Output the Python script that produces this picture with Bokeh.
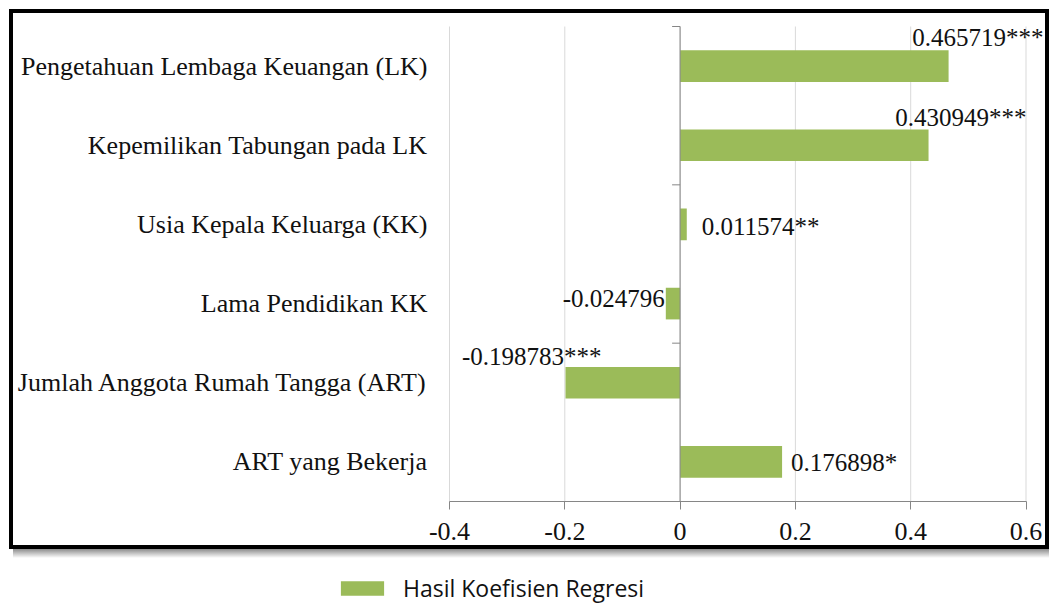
from math import pi
from bokeh.plotting import figure
from bokeh.models import (ColumnDataSource, Range1d, FixedTicker, Legend, LegendItem)
from bokeh.core.properties import value
from bokeh.embed import file_html
from bokeh.resources import INLINE

# ---- data ----
categories = [
    "Pengetahuan Lembaga Keuangan (LK)",
    "Kepemilikan Tabungan pada LK",
    "Usia Kepala Keluarga (KK)",
    "Lama Pendidikan KK",
    "Jumlah Anggota Rumah Tangga (ART)",
    "ART yang Bekerja",
]
coefficients = [0.465719, 0.430949, 0.011574, -0.024796, -0.198783, 0.176898]
significance = ["***", "***", "**", "", "***", "*"]
x_ticks = [-0.4, -0.2, 0, 0.2, 0.4, 0.6]
tick_labels = ["-0.4", "-0.2", "0", "0.2", "0.4", "0.6"]
series_name = "Hasil Koefisien Regresi"

# ---- label styling (pixel offsets, alignment) ----
label_align = ["right", "right", "left", "right", "right", "left"]
label_dx = [95, 98, 15, -1, 36, 9]
label_dy = [-29, -28, 2, -5, -26, 1]

GREEN = "#9bbb59"
AXIS = "#868686"
GRID = "#d9d9d9"
TEXT = "#111111"
SERIF = "Liberation Serif"

# ---- geometry (pixels on the page) ----
W, H = 1049, 604
PLOT_L, PLOT_R, PLOT_T, PLOT_B = 449, 1025.5, 26, 501

n = len(categories)
x_lo, x_hi = x_ticks[0], x_ticks[-1]
px_x = (PLOT_R - PLOT_L) / (x_hi - x_lo)
px_y = (PLOT_B - PLOT_T) / n
x_range = Range1d(x_lo - PLOT_L / px_x, x_lo + (W - PLOT_L) / px_x)
y_range = Range1d(-(H - PLOT_B) / px_y, n + PLOT_T / px_y)

y_pos = [n - 0.5 - i for i in range(n)]
labels = [f"{v:.6f}{s}" for v, s in zip(coefficients, significance)]
src = ColumnDataSource(dict(y=y_pos, cat=categories, val=coefficients, lab=labels,
                            align=label_align, dx=label_dx, dy=label_dy))

p = figure(width=W, height=H, x_range=x_range, y_range=y_range,
           output_backend="svg", toolbar_location=None, min_border=0)
p.background_fill_color = None
p.border_fill_color = None
p.outline_line_color = None
p.xgrid.grid_line_color = None
p.ygrid.grid_line_color = None

# black box (with soft shadow) around the chart area, drawn as CSS backgrounds
blk = "linear-gradient(#000000, #000000)"
shadow = "linear-gradient(rgba(0,0,0,0.45), rgba(0,0,0,0))"
p.styles = {
    "background-color": "white",
    "background-image": ", ".join([blk, blk, blk, blk, shadow]),
    "background-size": "1040px 4px, 4px 540px, 4px 540px, 1040px 4px, 1036px 9px",
    "background-position": "9px 9px, 9px 9px, 1045px 9px, 9px 545px, 13px 549px",
    "background-repeat": "no-repeat",
}

# vertical gridlines at the x ticks, spanning the category area
k = len(x_ticks)
p.segment(x0=x_ticks, x1=x_ticks, y0=[0] * k, y1=[n] * k,
          line_color=GRID, line_width=1)

bars = p.hbar(y="y", left=0, right="val", height=0.4, source=src,
              fill_color=GREEN, line_color=None)

# vertical axis line at zero with ticks every 2 categories
p.segment(x0=[0], x1=[0], y0=[0], y1=[n], line_color=AXIS, line_width=1)
bounds = list(range(0, n + 1, 2))
p.ray(x=[0] * len(bounds), y=bounds, length=8, angle=pi, length_units="screen",
      line_color=AXIS, line_width=1)

p.text(x="val", y="y", text="lab", source=src, text_align="align",
       x_offset="dx", y_offset="dy", text_baseline="middle",
       text_font=value(SERIF), text_font_size="25px", text_color=TEXT)

# x axis, fixed at the bottom of the category area
xa = p.xaxis[0]
xa.fixed_location = 0
xa.ticker = FixedTicker(ticks=x_ticks)
xa.bounds = (x_lo, x_hi)
xa.major_label_overrides = {t: l for t, l in zip(x_ticks, tick_labels)}
xa.axis_line_color = AXIS
xa.major_tick_line_color = AXIS
xa.major_tick_out = 8
xa.major_tick_in = 0
xa.minor_tick_line_color = None
xa.major_label_text_font = SERIF
xa.major_label_text_font_size = "26px"
xa.major_label_text_color = TEXT
xa.major_label_standoff = 13

# category axis, fixed at the left edge of the value range
ya = p.yaxis[0]
ya.fixed_location = x_lo
ya.ticker = FixedTicker(ticks=y_pos)
ya.bounds = (0, n)
ya.major_label_overrides = {yv: c for yv, c in zip(y_pos, categories)}
ya.axis_line_color = None
ya.major_tick_line_color = None
ya.minor_tick_line_color = None
ya.major_tick_out = 0
ya.major_tick_in = 0
ya.major_label_standoff = 22
ya.major_label_text_font = SERIF
ya.major_label_text_font_size = "26px"
ya.major_label_text_color = TEXT

# legend below the boxed chart
legend = Legend(items=[LegendItem(label=series_name, renderers=[bars])],
                location=(335, 0), padding=0, margin=0, spacing=0,
                glyph_width=54, glyph_height=18, label_standoff=14,
                label_text_font="Open Sans", label_text_font_size="23px",
                label_text_color=TEXT, border_line_color=None,
                background_fill_alpha=0)
p.add_layout(legend)

open("out.html", "w").write(file_html(p, INLINE))
